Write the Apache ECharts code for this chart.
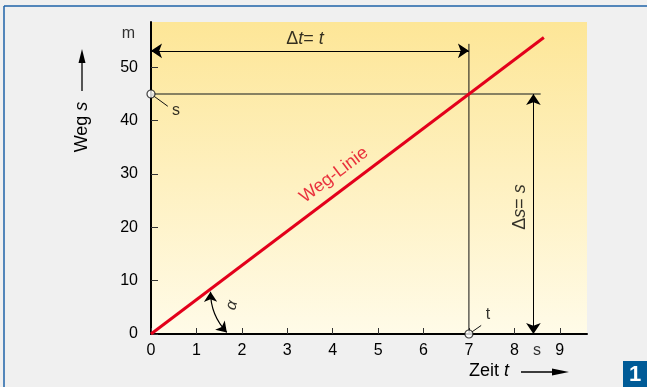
<!DOCTYPE html>
<html>
<head>
<meta charset="utf-8">
<script src="https://cdn.jsdelivr.net/npm/echarts@6/dist/echarts.min.js"></script>
<style>
  html, body { margin: 0; padding: 0; background: #f0f0f0; }
  #main { width: 647px; height: 387px; }
</style>
</head>
<body>
<div id="main"></div>
<script>
// axis ticks
var xTicks = [0, 1, 2, 3, 4, 5, 6, 7, 8, 9];
var yTicks = [0, 10, 20, 30, 40, 50];

// Weg-Linie (s = v * t)
var wegLinie = [[0, 0], [8.65, 55.6]];
// reading point: t = 7 s, s = 45 m
var punktT = 7;
var punktS = 45;
var hLine = [[0, 45], [8.58, 45]];
var vLine = [[7, 0], [7, 54.4]];
// dimension arrows
var dtArrow = [[0, 53.1], [7, 53.1]];
var dsArrow = [[8.42, 45], [8.42, 0]];
var alphaArrow = [[1.31, 7.9], [1.67, 0.3]];
var leaderS = [[0, 45], [0.37, 42.7]];
var leaderT = [[7, 0], [7.27, 1.6]];

var font = 'Liberation Sans, Arial, sans-serif';
var chart = echarts.init(document.getElementById('main'));

function txt(name, pos, label) {
    return { name: name, value: pos, label: label };
}

var option = {
    backgroundColor: '#f0f0f0',
    animation: false,
    grid: {
        left: 151, right: 60, top: 22, bottom: 53,
        show: true, borderWidth: 0,
        backgroundColor: new echarts.graphic.LinearGradient(0, 0, 0, 1, [
            { offset: 0, color: '#fde697' },
            { offset: 1, color: '#fffbe8' }
        ])
    },
    xAxis: {
        type: 'value', min: 0, max: 9.6,
        splitLine: { show: false },
        axisLine: { lineStyle: { color: '#000', width: 2 } },
        axisTick: { inside: true, length: 6, customValues: xTicks, lineStyle: { color: '#333' } },
        axisLabel: { customValues: xTicks, color: '#000', fontSize: 16, fontFamily: font, margin: 9 }
    },
    yAxis: {
        type: 'value', min: 0, max: 58.5,
        splitLine: { show: false },
        axisLine: { show: true, lineStyle: { color: '#000', width: 2 } },
        axisTick: { show: true, inside: true, length: 7, customValues: yTicks, lineStyle: { color: '#333' } },
        axisLabel: { customValues: yTicks, color: '#000', fontSize: 16, fontFamily: font, margin: 13 }
    },
    series: [
        {
            type: 'line', data: hLine, symbol: 'none', z: 2,
            lineStyle: { color: '#5f5e4a', width: 1.3 }
        },
        {
            type: 'line', data: vLine, symbol: 'none', z: 2,
            lineStyle: { color: '#111', width: 1 }
        },
        {
            type: 'line', data: wegLinie, symbol: 'none', z: 3,
            lineStyle: { color: '#e3001b', width: 3 }
        },
        {
            type: 'lines', coordinateSystem: 'cartesian2d', z: 4,
            symbol: ['arrow', 'arrow'], symbolSize: 11,
            lineStyle: { color: '#000', width: 1, opacity: 1 },
            data: [
                { coords: dtArrow },
                { coords: dsArrow }
            ]
        },
        {
            type: 'lines', coordinateSystem: 'cartesian2d', z: 4,
            symbol: ['arrow', 'arrow'], symbolSize: 10,
            lineStyle: { color: '#000', width: 1.2, opacity: 1, curveness: -0.2 },
            data: [{ coords: alphaArrow }]
        },
        {
            type: 'lines', coordinateSystem: 'cartesian2d', z: 4,
            symbol: 'none',
            lineStyle: { color: '#111', width: 1, opacity: 1 },
            data: [{ coords: leaderS }, { coords: leaderT }]
        },
        {
            type: 'scatter', z: 6, clip: false,
            symbol: 'circle', symbolSize: 8,
            itemStyle: { color: '#fff', borderColor: '#111', borderWidth: 1.2 },
            data: [[0, punktS], [punktT, 0]]
        },
        {
            type: 'scatter', z: 7, clip: false, symbolSize: 0,
            label: { show: true, position: 'inside', color: '#000', fontSize: 16, fontFamily: font },
            data: [
                txt('m', [-0.5, 56.4], { formatter: 'm' }),
                txt('s', [0.55, 41.8], { formatter: 's' }),
                txt('t', [7.42, 3.6], { formatter: 't' }),
                txt('s-unit', [8.5, 0], { formatter: 's', offset: [0, 17] }),
                txt('Weg-Linie', [4.03, 29.8], {
                    formatter: 'Weg-Linie', color: '#e3001b', fontSize: 18, rotate: 37
                }),
                txt('dt', [3.39, 55.3], {
                    formatter: 'Δ{i|t}= {i|t}', fontSize: 18,
                    rich: { i: { fontStyle: 'italic', fontSize: 18, fontFamily: font, color: '#000' } }
                }),
                txt('ds', [8.13, 23.8], {
                    formatter: 'Δ{i|s}= {i|s}', fontSize: 18, rotate: 90,
                    rich: { i: { fontStyle: 'italic', fontSize: 18, fontFamily: font, color: '#000' } }
                }),
                txt('alpha', [1.78, 5.4], {
                    formatter: 'α', fontSize: 16, fontStyle: 'italic', rotate: 75
                })
            ]
        }
    ],
    graphic: [
        { type: 'line', shape: { x1: 4, y1: 6, x2: 647, y2: 6 }, style: { stroke: '#1f63a8', lineWidth: 1.5 } },
        { type: 'line', shape: { x1: 4, y1: 6, x2: 4, y2: 387 }, style: { stroke: '#1f63a8', lineWidth: 1.5 } },
        {
            type: 'text', x: 82, y: 127, rotation: Math.PI / 2,
            style: {
                text: 'Weg {i|s}', x: 0, y: 0, align: 'center', verticalAlign: 'middle',
                font: '18px ' + font, fill: '#000',
                rich: { i: { fontStyle: 'italic', fontSize: 18, fontFamily: font } }
            }
        },
        { type: 'line', shape: { x1: 82, y1: 91, x2: 82, y2: 60 }, style: { stroke: '#000', lineWidth: 1.3 } },
        { type: 'polygon', shape: { points: [[82, 49], [78.5, 63], [85.5, 63]] }, style: { fill: '#000' } },
        {
            type: 'text', x: 489, y: 371,
            style: {
                text: 'Zeit {i|t}', x: 0, y: 0, align: 'center', verticalAlign: 'middle',
                font: '18px ' + font, fill: '#000',
                rich: { i: { fontStyle: 'italic', fontSize: 18, fontFamily: font } }
            }
        },
        { type: 'line', shape: { x1: 521, y1: 372, x2: 556, y2: 372 }, style: { stroke: '#000', lineWidth: 1.3 } },
        { type: 'polygon', shape: { points: [[569, 372], [552, 368.5], [552, 375.5]] }, style: { fill: '#000' } },
        { type: 'rect', shape: { x: 623, y: 361, width: 24, height: 26 }, style: { fill: '#005b97' } },
        {
            type: 'text', x: 635, y: 375,
            style: {
                text: '1', x: 0, y: 0, align: 'center', verticalAlign: 'middle',
                font: 'bold 22px ' + font, fill: '#fff'
            }
        }
    ]
};

chart.setOption(option);
</script>
</body>
</html>
